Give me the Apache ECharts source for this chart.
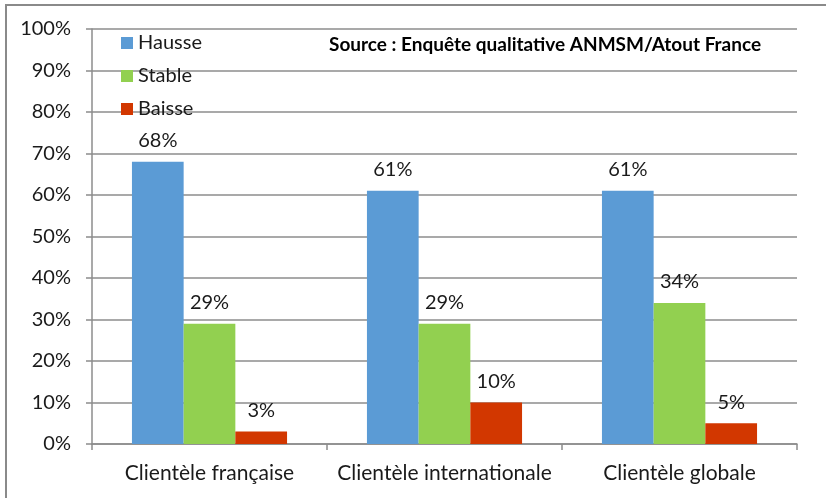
<!DOCTYPE html>
<html>
<head>
<meta charset="utf-8">
<script src="https://cdn.jsdelivr.net/npm/echarts@6/dist/echarts.min.js"></script>
<style>
    html, body { margin: 0; padding: 0; background: #fff; overflow: hidden; }
    .frame {
        position: absolute;
        left: 5px;
        top: 4px;
        width: 840px;
        height: 520px;
        border: 2px solid #8a8a8a;
    }
    #chart { position: absolute; left: 0; top: 0; width: 826px; height: 498px; }
</style>
</head>
<body>
<div class="frame"></div>
<div id="chart"></div>
<script>
    // données
    const categories = ['Clientèle française', 'Clientèle internationale', 'Clientèle globale']
    const hausse = [68, 61, 61]
    const stable = [29, 29, 34]
    const baisse = [3, 10, 5]
    const yTicks = { min: 0, max: 100, interval: 10 }

    const font = 'Lato, "Open Sans", sans-serif'
    const gray = '#8c8c8c'

    const barLabel = {
        show: true,
        position: 'top',
        distance: 11,
        formatter: '{c}%',
        color: '#1a1a1a',
        fontSize: 20,
        fontFamily: font
    }

    const chart = echarts.init(document.getElementById('chart'), null, { renderer: 'canvas' })

    chart.setOption({
        animation: false,
        backgroundColor: 'transparent',
        textStyle: { fontFamily: font },
        grid: {
            left: 92,
            top: 29,
            right: 29,
            bottom: 54,
            containLabel: false
        },
        legend: {
            orient: 'vertical',
            left: 116,
            top: 28,
            itemWidth: 12,
            itemHeight: 12,
            itemGap: 13,
            icon: 'rect',
            textStyle: { fontSize: 20, color: '#1a1a1a', fontFamily: font },
            data: ['Hausse', 'Stable', 'Baisse']
        },
        graphic: [
            {
                type: 'text',
                left: 329,
                top: 35,
                style: {
                    text: 'Source : Enquête qualitative ANMSM/Atout France',
                    font: 'bold 19px ' + font,
                    fill: '#000'
                }
            }
        ],
        xAxis: {
            type: 'category',
            data: categories,
            axisLine: { show: true, lineStyle: { color: gray, width: 1.5 } },
            axisTick: { show: true, length: 6, alignWithLabel: false, lineStyle: { color: gray, width: 1.5 } },
            axisLabel: { margin: 19, fontSize: 21, color: '#1a1a1a', fontFamily: font, interval: 0 }
        },
        yAxis: {
            type: 'value',
            min: yTicks.min,
            max: yTicks.max,
            interval: yTicks.interval,
            axisLine: { show: true, lineStyle: { color: gray, width: 1.5 } },
            axisTick: { show: true, length: 6, lineStyle: { color: gray, width: 1.5 } },
            axisLabel: { formatter: '{value}%', margin: 21, fontSize: 20, color: '#1a1a1a', fontFamily: font },
            splitLine: { show: true, lineStyle: { color: gray, width: 1.5 } }
        },
        series: [
            {
                name: 'Hausse',
                type: 'bar',
                data: hausse,
                barGap: '0%',
                barCategoryGap: '34%',
                itemStyle: { color: '#5b9bd5' },
                label: barLabel
            },
            {
                name: 'Stable',
                type: 'bar',
                data: stable,
                itemStyle: { color: '#92d050' },
                label: barLabel
            },
            {
                name: 'Baisse',
                type: 'bar',
                data: baisse,
                itemStyle: { color: '#d23700' },
                label: barLabel
            }
        ]
    })
</script>
</body>
</html>
